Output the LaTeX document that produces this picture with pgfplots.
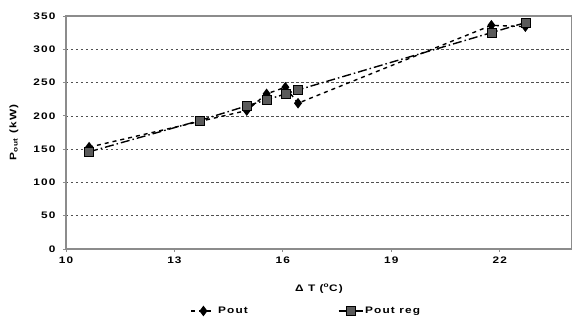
\documentclass[border=0pt]{standalone}
\usepackage{fontspec}
\setmainfont{Liberation Sans}[FakeStretch=1.25, LetterSpace=12]
\usepackage{pgfplots}
\pgfplotsset{compat=1.18}

\definecolor{axisgray}{HTML}{8C8C8C}
\definecolor{gridgray}{HTML}{505050}
\definecolor{regfill}{HTML}{5A5A5A}

% Output power measured (Pout) and from regression (Pout reg)
\pgfplotstableread{
dT    P
10.64 153
15.00 208
15.55 233
16.07 243
16.42 219
21.77 336
22.71 334
}\pout
\pgfplotstableread{
dT    P
10.64 146
13.70 193
15.00 215
15.55 224
16.07 233
16.42 239
21.77 325
22.71 340
}\poutreg

\begin{document}
\begin{tikzpicture}
\begin{axis}[
  scale only axis,
  width=506bp, height=233bp,
  xmin=10, xmax=24, ymin=0, ymax=350,
  xtick={10,13,16,19,22},
  ytick={0,50,...,350},
  axis line style={draw=axisgray, line width=1.1bp},
  tick style={draw=axisgray, line width=0.8bp},
  tick align=outside,
  major tick length=3bp,
  xtick pos=bottom, ytick pos=left,
  ymajorgrids,
  major grid style={draw=gridgray, line width=0.6bp, dash pattern=on 2.5bp off 2.5bp},
  /pgf/number format/assume math mode=true,
  tick label style={font=\bfseries\fontsize{9.5}{11}\selectfont},
  yticklabel style={xshift=-4bp},
  xticklabel style={yshift=-1bp},
  xlabel={Δ T (\textsuperscript{o}C)},
  ylabel={P\textsubscript{out} (kW)},
  label style={font=\bfseries\fontsize{9.5}{11}\selectfont},
  xlabel style={at={(axis description cs:0.5,-0.172)}, anchor=center},
  ylabel style={at={(axis description cs:-0.103,0.5)}, anchor=center},
  legend columns=2,
  legend style={
    at={(axis description cs:0.475,-0.266)}, anchor=center,
    draw=none, fill=none,
    font=\bfseries\fontsize{9.5}{11}\selectfont,
    /tikz/every even column/.append style={column sep=88bp},
  },
  legend image code/.code={
    \draw[mark repeat=2, mark phase=2, #1]
      plot coordinates {(0bp,0bp) (12bp,0bp) (24bp,0bp)};
  },
]
\addplot[black, line width=1.4bp, dash pattern=on 4bp off 4bp,
  mark=diamond*, mark size=4.2bp,
  mark options={solid, fill=black, draw=black}]
  table[x=dT, y=P] {\pout};
\addlegendentry{Pout}
\addplot[black, line width=1.4bp, dash pattern=on 9bp off 3bp on 1.5bp off 3bp,
  mark=square*, mark size=4.5bp,
  mark options={solid, fill=regfill, draw=black, line width=0.6bp}]
  table[x=dT, y=P] {\poutreg};
\addlegendentry{Pout reg}
\end{axis}
\pgfresetboundingbox
\path[use as bounding box] (-66bp,-71bp) rectangle (506bp,249bp);
\end{tikzpicture}
\end{document}
